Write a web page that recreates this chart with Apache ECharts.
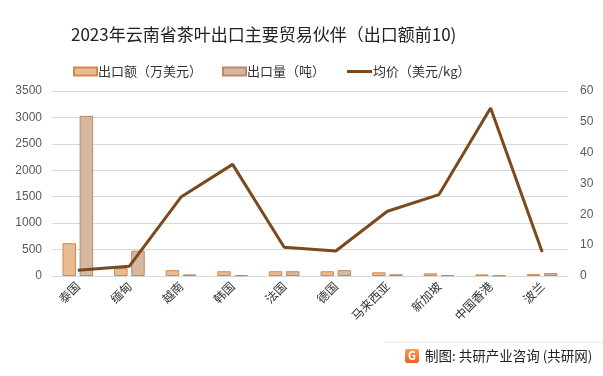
<!DOCTYPE html>
<html><head><meta charset="utf-8">
<script src="https://cdn.jsdelivr.net/npm/echarts@6/dist/echarts.min.js"></script>
<style>html,body{margin:0;padding:0;background:#fff}#c{width:603px;height:376px}</style>
</head><body><div id="c"></div>
<script>
const categories = ['泰国','缅甸','越南','韩国','法国','德国','马来西亚','新加坡','中国香港','波兰'];
const exportValue = [620, 150, 110, 90, 90, 90, 70, 50, 30, 35];
const exportVolume = [3030, 480, 30, 15, 90, 110, 32, 15, 10, 55];
const avgPrice = [1.9, 3.2, 25.6, 36.2, 9.3, 8.1, 21.0, 26.4, 54.5, 7.8];
const leftTicks = {min: 0, max: 3500, interval: 500};
const rightTicks = {min: 0, max: 60, interval: 10};

const font = '"Noto Sans CJK SC", "Noto Sans", sans-serif';
const legendText = {fontSize: 13, color: '#333', fontFamily: font, padding: [0,0,0,-4]};
const chart = echarts.init(document.getElementById('c'), null, {renderer: 'canvas'});
chart.setOption({
  animation: false,
  backgroundColor: '#fff',
  title: {
    text: '2023年云南省茶叶出口主要贸易伙伴（出口额前10)',
    left: 66, top: 21,
    textStyle: {fontSize: 17, fontWeight: 'normal', color: '#222', fontFamily: font}
  },
  legend: [
    {top: 60, left: 68, itemWidth: 23, itemHeight: 8, textStyle: legendText,
     data: [{name: '出口额（万美元）', icon: 'rect'}]},
    {top: 60, left: 217, itemWidth: 23, itemHeight: 8, textStyle: legendText,
     data: [{name: '出口量（吨）', icon: 'rect'}]},
    {top: 60, left: 342, itemWidth: 25, itemHeight: 3, textStyle: legendText,
     data: [{name: '均价（美元/kg）', icon: 'rect', itemStyle: {color: '#7a4a1e'}}]}
  ],
  grid: {left: 52, right: 35, top: 91, bottom: 100},
  xAxis: {
    type: 'category', data: categories,
    axisLine: {lineStyle: {color: '#d9d9d9'}},
    axisTick: {show: false},
    axisLabel: {rotate: 45, fontSize: 12, color: '#333', fontFamily: font, margin: 8}
  },
  yAxis: [
    {type: 'value', min: leftTicks.min, max: leftTicks.max, interval: leftTicks.interval,
     axisLabel: {fontSize: 12, color: '#595959', margin: 10, formatter: v => String(v)},
     splitLine: {lineStyle: {color: '#d9d9d9'}}, axisLine: {show: false}},
    {type: 'value', min: rightTicks.min, max: rightTicks.max, interval: rightTicks.interval,
     axisLabel: {fontSize: 12, color: '#595959', margin: 12, formatter: v => String(v)},
     splitLine: {show: false}, axisLine: {show: false}}
  ],
  series: [
    {name: '出口额（万美元）', type: 'bar', data: exportValue, barWidth: 13.5, barGap: '27%',
     itemStyle: {color: '#e9bb93', borderColor: '#d4894a', borderWidth: 1}},
    {name: '出口量（吨）', type: 'bar', data: exportVolume, barWidth: 13.5,
     itemStyle: {color: '#d6b8a1', borderColor: '#b8896a', borderWidth: 1}},
    {name: '均价（美元/kg）', type: 'line', yAxisIndex: 1, data: avgPrice,
     symbol: 'none', z: 5, lineStyle: {color: '#7a4a1e', width: 3},
     itemStyle: {color: '#7a4a1e'}}
  ],
  graphic: [
    {type: 'line', shape: {x1: 385, y1: 342, x2: 603, y2: 342}, style: {stroke: '#e6e6e6', lineWidth: 1}},
    {type: 'rect', shape: {x: 405, y: 349, width: 14, height: 14, r: 2},
     style: {fill: new echarts.graphic.LinearGradient(0,0,0,1,[{offset:0,color:'#f7a14a'},{offset:1,color:'#e8622a'}])}},
    {type: 'text', x: 412, y: 356, style: {text: 'G', fill: '#fff', fontSize: 11, fontWeight: 'bold', align: 'center', verticalAlign: 'middle', fontFamily: font}},
    {type: 'text', x: 425, y: 356, style: {text: '制图: 共研产业咨询 (共研网)', fill: '#222', fontSize: 13.5, verticalAlign: 'middle', fontFamily: font}}
  ]
});
</script></body></html>
